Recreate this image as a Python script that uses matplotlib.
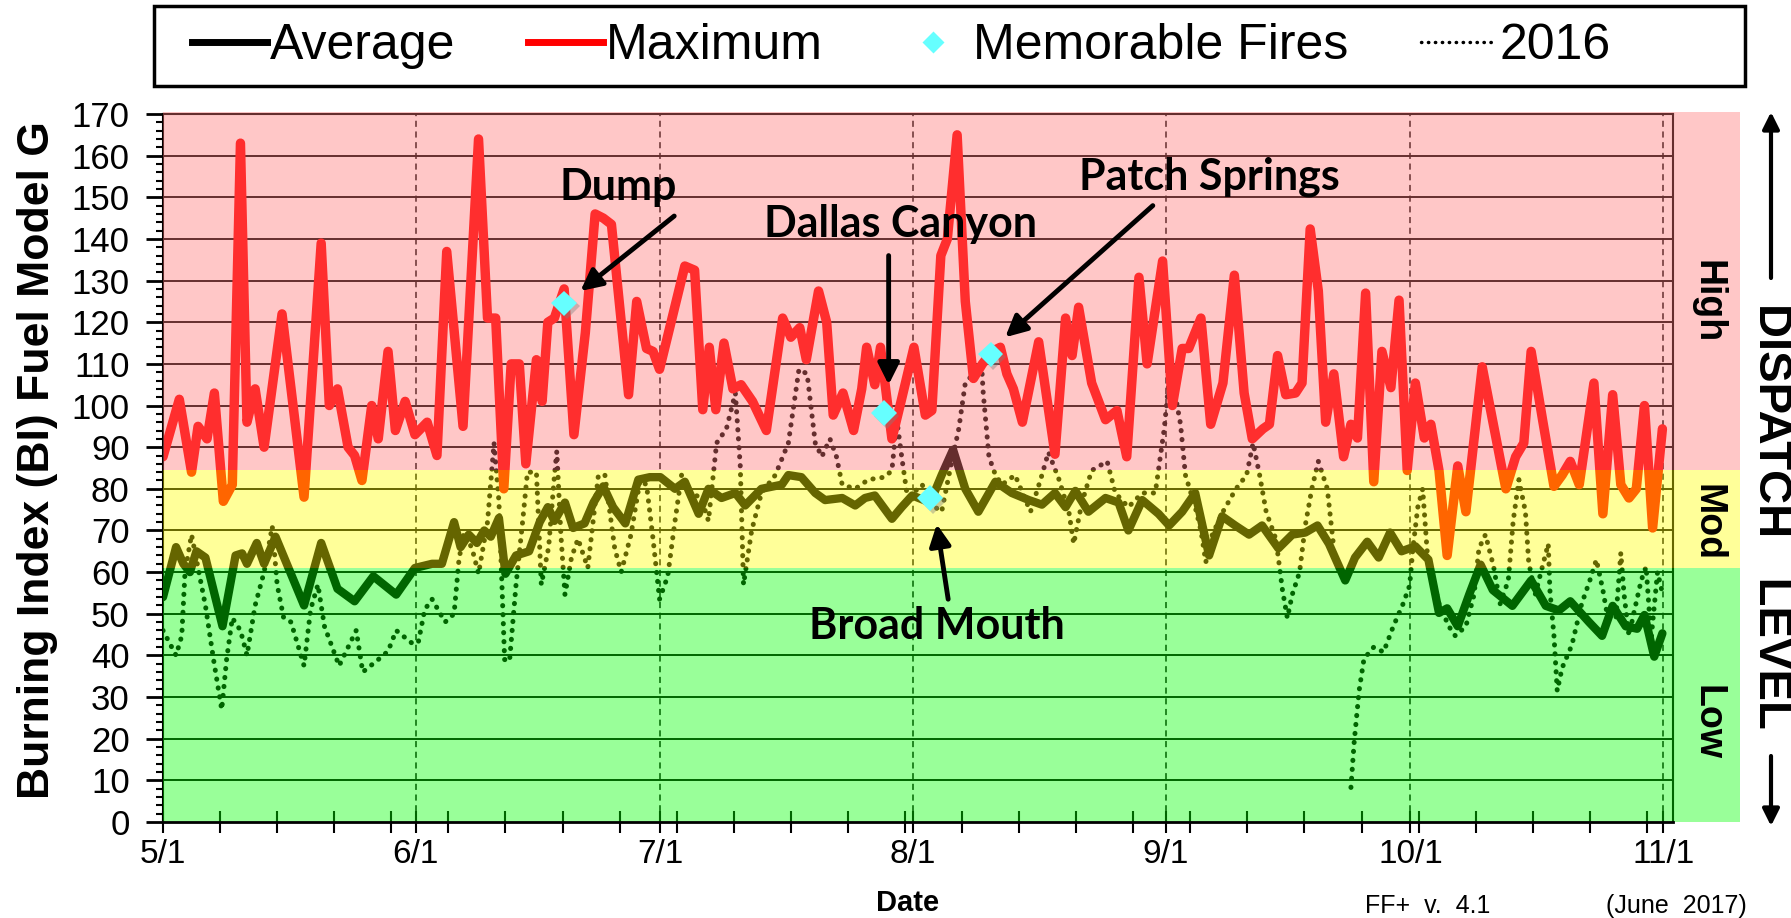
import matplotlib
matplotlib.use('Agg')
import numpy as np
import matplotlib.pyplot as plt
import matplotlib.dates as mdates
import matplotlib.transforms as mtransforms
import matplotlib.patheffects as pe
from matplotlib.patches import Rectangle
from matplotlib.lines import Line2D
from matplotlib.ticker import FixedLocator, FixedFormatter, MultipleLocator

plt.rcParams['font.family'] = ['Liberation Sans', 'DejaVu Sans']

# days since 5/1 and burning index
max_days = [0, 2, 3.5, 4.3, 5.4, 6.3, 7.4, 8.5, 9.5, 10.3, 11.3, 12.4, 14.6, 17.3, 19.4, 20.4,
            21.4, 22.7, 23.5, 24.4, 25.6, 26.4, 27.6, 28.5, 29.7, 30.9, 32.4, 33.6, 34.8, 36.8,
            38.7, 39.8, 40.8, 41.8, 42.7, 43.7, 44.5, 45.8, 46.5, 47.2, 48, 49.2, 50.4, 51.8,
            53, 54, 55, 57.1, 58.1, 59.3, 60.1, 60.9, 64, 65.2, 66.2, 67, 67.8, 68.8, 69.9,
            70.9, 72.3, 74, 76, 77, 78.1, 78.9, 80.4, 81.4, 82.2, 83.4, 84.7, 85.7, 86.3, 87.3,
            88, 89.4, 90.4, 92.1, 93.5, 94.3, 95.4, 96.2, 97.4, 98.4, 99.4, 100.5, 101.7, 102.7,
            103.5, 104.3, 105.4, 107.4, 109.4, 110.7, 111.5, 112.3, 113.9, 115.6, 117, 118.2,
            119.7, 120.7, 122.6, 123.8, 125, 125.8, 127.3, 128.5, 130, 131.4, 132.6, 133.6,
            134.9, 135.7, 136.7, 137.7, 138.9, 139.7, 140.7, 141.7, 142.6, 143.6, 144.8, 145.7,
            146.5, 147.5, 148.5, 149.5, 150.6, 151.6, 152.6, 153.6, 154.7, 155.5, 156.5, 157.5,
            158.8, 159.8, 161.8, 163.5, 164.7, 165.9, 166.9, 167.8, 169.2, 170.6, 171.6, 172.6,
            173.7, 175.5, 176.6, 177.8, 178.8, 179.8, 180.7, 181.7, 182.7, 183.9]
max_bi = [87.7, 101.5, 84, 95, 92, 103, 77, 81, 163, 96, 104, 90, 122, 78, 139, 100,
          104, 90, 88, 82, 100, 92, 113, 94, 101, 93, 96, 88, 137, 95,
          164, 121, 121, 80, 110, 110, 86, 111, 101, 120, 121, 128, 93, 117.5,
          146, 145, 143.5, 102.6, 125, 113.7, 113, 108.7, 133.5, 132.5, 99, 114, 99, 115, 104,
          105, 101, 94, 121, 116.4, 118.7, 111, 127.5, 120, 97.7, 103, 94, 104, 114, 105,
          114, 92, 100, 114, 97.7, 98.8, 136, 140, 165, 125, 106.5, 110, 113, 114,
          107.6, 104, 96, 115.3, 88.3, 121, 112, 123.6, 105.4, 96.6, 98.8, 87.7,
          130.8, 110, 134.7, 100, 113.7, 113.7, 121, 95.5, 105.4, 131.3, 103, 92,
          94.4, 95.5, 112, 102.6, 103, 105.4, 142.4, 127.5, 96, 107.6, 87.7, 95.5,
          92.2, 127, 81.7, 113, 104.3, 125.3, 84.4, 105.4, 92.2, 95.5, 84.4, 64,
          85.5, 74.5, 109.3, 92.2, 80, 87.7, 91, 113, 96.6, 80.6, 83.3, 86.6,
          81, 105.4, 74, 102.6, 81, 77.8, 80, 100, 70.6, 94.4]

avg_days = [0, 1.6, 2.5, 3.3, 4.1, 5.2, 7.3, 8.9, 9.7, 10.3, 11.5, 12.4, 13.8, 17.3, 19.4,
            21.4, 23.5, 25.8, 28.6, 30.9, 33, 34.2, 35.7, 36.5, 37.5, 38.5, 39.4, 40.2, 41.2,
            42, 43.3, 44.9, 46.2, 47.2, 48, 49.3, 50.3, 51.7, 52.8, 54, 55.2, 56.7, 58.3, 59.7,
            61, 62.8, 64, 65.7, 66.9, 68.5, 70.2, 71.4, 73.4, 75.9, 76.7, 78.3, 80, 81.2, 83.3,
            84.9, 86.1, 87.3, 89.4, 90.6, 91.9, 94.1, 95.5, 96.9, 98.4, 100, 102.1, 104.1,
            106.2, 107.8, 109.4, 110.7, 111.9, 113.5, 115.6, 117.2, 118.4, 120.1, 122.1, 123.4,
            125, 126.6, 128.3, 129.9, 131.5, 133.2, 134.8, 136.8, 138.5, 140.1, 141.6, 143, 145,
            146.2, 147.7, 149.1, 150.5, 151.9, 153.6, 155.2, 156.5, 157.5, 158.8, 160.2, 161.6,
            163.1, 165.5, 167.8, 169.6, 171.2, 172.6, 174.9, 176.5, 177.8, 179.4, 180.8, 181.7,
            182.9, 183.9]
avg_bi = [54, 66, 62, 60, 65, 63.5, 47, 64, 64.5, 62, 67, 62, 68.5, 52, 67,
          56, 53, 59, 54.6, 61, 62, 62, 72, 66, 69, 67, 70, 68.5, 73,
          59.6, 64, 65, 72, 75.6, 72.3, 76.7, 70.6, 71.7, 76.7, 80.6, 75.6, 71.7, 82.2, 82.8,
          82.8, 80, 81.7, 74, 80, 77.8, 79, 76, 80, 81, 83.3, 82.8, 79, 77.3, 77.8,
          76, 77.8, 78.4, 72.8, 75.6, 78.4, 76.7, 83.3, 89.4, 80, 74.5, 81.7, 79,
          77.3, 76.2, 79, 75.6, 79.5, 74.5, 77.8, 76.7, 70, 77.3, 74, 71.2,
          74.5, 79, 64, 73.4, 71.2, 69, 71.2, 65.7, 69, 69.5, 71.2, 66.8, 58,
          63.5, 67.3, 63.5, 69.5, 65, 66.2, 63, 50.2, 51.3, 47, 54.6, 61.8,
          55.7, 51.9, 58, 51.9, 50.8, 53, 48, 44.7, 51.9, 47, 46.4, 49.7,
          39.7, 45.3]

y2016_days = [0, 0.8, 1.6, 2.3, 2.7, 3.5, 4.3, 5.2, 6.2, 7.2, 7.8, 8.5, 9.5, 10.3, 11.3, 12.4,
              13.4, 14, 14.8, 15.7, 17.3, 18.1, 19, 19.8, 21.6, 23.1, 23.7, 24.5, 26.4, 27.6,
              28.6, 30.5, 31.3, 32.1, 33, 34.6, 35.7, 36.3, 36.9, 37.9, 38.7, 39.8, 40.6, 41.2,
              41.9, 42.5, 43.3, 44.1, 44.7, 45.8, 46.4, 47.3, 48, 48.3, 48.8, 49.3, 50.1, 50.9,
              52.1, 53.4, 54.2, 55.4, 56.2, 57.4, 58.5, 59.3, 60.1, 60.9, 61.9, 62.8, 63.6,
              64.8, 66, 66.9, 67.9, 69.1, 70.2, 70.8, 71.2, 72.2, 73.4, 75.1, 76.7, 78, 79, 80,
              80.8, 81.8, 82.6, 83.3, 84.9, 86.5, 88.5, 89.4, 90, 90.6, 91.4, 92.3, 93.1, 94.7,
              95.5, 96.4, 97.6, 98.4, 99.4, 100.4, 100.6, 101.3, 102.1, 102.9, 104.5, 106.4,
              107.8, 108.6, 109.9, 111.1, 111.7, 112.7, 113.9, 115.8, 116.8, 118.4, 120.1,
              121.7, 122.8, 123.4, 124.2, 124.8, 125.4, 126.6, 127.3, 127.9, 128.7, 130, 131.6,
              132.9, 133.7, 134.5, 135.3, 136.5, 137.3, 137.9, 138.5, 139.4, 140.1, 140.9,
              141.7, 142.8, 143.6, 144.6, 145.7, 146.1, 146.7, 147.3, 148.5, 149.7, 150.9,
              152.1, 152.9, 153.3, 153.9, 154.5, 155.1, 156.5, 157.7, 158.5, 159.8, 160.8,
              161.4, 162.2, 163.2, 164, 165, 165.6, 166.3, 167.1, 167.5, 168.3, 169.9, 170.1,
              170.6, 171, 171.6, 172.8, 174, 175, 175.8, 176.6, 177.2, 178.2, 178.8, 179.2,
              179.8, 180.4, 181.3, 181.9, 182.3, 182.5, 183.3, 183.9]
y2016_bi = [46, 43, 40, 44.7, 60, 69, 61, 52, 39, 27, 39, 49, 46, 40, 52, 60,
            71, 57, 49, 48, 37.5, 51, 57, 47, 37.5, 43.6, 46, 36, 39, 41,
            46, 43, 43, 51, 53.5, 48, 50, 63, 69.5, 65.7, 59.6, 72, 91, 77,
            39, 38.6, 57, 72, 84, 84, 57, 66, 83, 89, 69, 54.6, 63.5, 68,
            61, 83.3, 83.3, 65.7, 60, 69, 82, 81, 68, 53.5, 59, 72.3, 83.3,
            79, 77.8, 72.3, 91, 94.4, 103, 85.5, 57, 70, 79, 83.3, 91, 108.7, 107.6, 91,
            87.7, 92, 87.7, 81, 80, 82.2, 82.8, 84.4, 96.6, 87.7, 76.7, 79.5, 81, 75.6,
            74.5, 83.3, 94.4, 105.4, 107.6, 109.8, 103, 87.7, 83.3, 81, 83.3, 74.5,
            83.3, 88.8, 82.2, 74.5, 66.8, 76.7, 84.4, 86.6, 79, 75.6, 79,
            79, 94.4, 106.5, 102, 95.5, 83.3, 75.6, 70, 62.4, 69, 74.5, 80,
            83.3, 91, 83.3, 74.5, 67.9, 55.7, 49, 54.6, 60, 71.2, 80,
            86.6, 80, 65.7, np.nan, 8.3, 19.3, 31.5, 39.2, 42, 40.8, 47,
            52.4, 56.8, 65.7, 75.6, 80, 63.5, 52.4, 47, 44.7, 47, 54.6,
            65.7, 69, 61.3, 52.4, 58, 72.3, 82.2, 74.5, 62.4, 54.6, 66.8, 55.7,
            44.7, 31.5, 37, 42.5, 52.4, 58, 63, 55.7, 49, 49, 64.6, 54.6,
            44.7, 50.2, 58, 61.3, 50.2, 43.6, 60, 55]

fire_names = ['Dump', 'Dallas Canyon', 'Broad Mouth', 'Patch Springs']
fire_days = [49.2, 88.4, 94.1, 101.5]
fire_bi = [124.5, 98.2, 77.8, 112.3]

month_days = [0, 31, 61, 92, 123, 153, 184]
month_labels = ['5/1', '6/1', '7/1', '8/1', '9/1', '10/1', '11/1']

start = np.datetime64('2017-05-01T00:00')


def to_date(days):
    return start + (np.asarray(days, dtype=float) * 1440).round().astype('timedelta64[m]')


W, H = 1791, 918
fig = plt.figure(figsize=(W / 100, H / 100), dpi=100)
ax = fig.add_axes([163 / W, 1 - 822 / H, 1510 / W, 708 / H])
ax.set_xlim(to_date(0), to_date(185.2))
ax.set_ylim(0, 170)

# grid (sits under the coloured wash, like the lines)
for v in range(10, 171, 10):
    ax.axhline(v, color='black', lw=1.4, zorder=1)
for d in month_days[1:]:
    ax.axvline(to_date(d), color='black', lw=1.1, ls=(0, (4, 3)), zorder=1)

ax.plot(to_date(y2016_days), y2016_bi, color='black', lw=3.6, ls=(0, (0.05, 1.75)),
        dash_capstyle='round', zorder=2)
ax.plot(to_date(avg_days), avg_bi, color='black', lw=6, solid_joinstyle='round',
        solid_capstyle='round', zorder=2)
ax.plot(to_date(max_days), max_bi, color='red', lw=6.8, solid_joinstyle='round',
        solid_capstyle='round', zorder=2)

# dispatch level bands as a translucent wash on top of the lines
trans = mtransforms.blended_transform_factory(ax.transAxes, ax.transData)
bands = [(0, 61, (0, 1, 0)), (61, 84.5, (1, 1, 0)), (84.5, 170.6, (1, 117 / 255, 117 / 255))]
for lo, hi, c in bands:
    ax.add_patch(Rectangle((0, lo), 1.0444, hi - lo, transform=trans, facecolor=c,
                           alpha=0.4, lw=0, zorder=3, clip_on=False))
ax.spines['bottom'].set_zorder(4)
ax.spines['bottom'].set_linewidth(2)
for s in ['left', 'right', 'top']:
    ax.spines[s].set_linewidth(1.5)

ax.plot(to_date(fire_days), fire_bi, ls='none', marker='D', ms=13, mfc='#66FFFF', mec='none',
        zorder=5, path_effects=[pe.SimplePatchShadow(offset=(2, -2), shadow_rgbFace='grey',
                                                     alpha=0.4), pe.Normal()])

# fire annotations: (text day, text bi, arrow tail day, tail bi, head day, head bi)
ann = {'Dump': (55.8, 152.5, 62.7, 145.5, 51.2, 127.5),
       'Dallas Canyon': (90.5, 143.5, 89, 136, 89, 105),
       'Broad Mouth': (94.9, 47, 96.3, 53.5, 94.9, 71.5),
       'Patch Springs': (128.3, 155, 121.4, 148, 103.3, 116.4)}
for name in fire_names:
    tx, ty, ax0, ay0, hx, hy = ann[name]
    ax.text(to_date(tx), ty, name, ha='center', va='center', fontsize=31,
            fontweight='bold', family=['Lato', 'DejaVu Sans'], zorder=6)
    ax.annotate('', xy=(to_date(hx), hy), xytext=(to_date(ax0), ay0),
                arrowprops=dict(arrowstyle='-|>', color='black', lw=3.5, mutation_scale=32,
                                shrinkA=0, shrinkB=0), zorder=6)

# ticks
ax.xaxis.set_major_locator(FixedLocator(mdates.date2num(to_date(month_days))))
ax.xaxis.set_major_formatter(FixedFormatter(month_labels))
ax.xaxis.set_minor_locator(FixedLocator(mdates.date2num(to_date(np.arange(0, 185, 7)))))
ax.tick_params(axis='x', which='both', direction='inout', length=16, width=1.5,
               labelsize=24, pad=4)
ax.yaxis.set_major_locator(MultipleLocator(10))
ax.yaxis.set_minor_locator(MultipleLocator(2))
ax.tick_params(axis='y', which='major', direction='out', length=12, width=2, labelsize=25,
               pad=12)
ax.tick_params(axis='y', which='minor', direction='out', length=5, width=1.5)

fig.text(38 / W, 1 - 460 / H, 'Burning Index (BI) Fuel Model G', rotation=90, ha='center',
         va='center', fontsize=32, fontweight='bold')
fig.text(908 / W, 1 - 903 / H, 'Date', ha='center', va='center', fontsize=21, fontweight='bold')
fig.text(1428 / W, 1 - 906 / H, 'FF+  v.  4.1', ha='center', va='center', fontsize=18)
fig.text(1676 / W, 1 - 906 / H, '(June  2017)', ha='center', va='center', fontsize=18)

# right hand dispatch labels
tr = mtransforms.blended_transform_factory(fig.transFigure, ax.transData)
for lab, yv in [('High', 125), ('Mod', 72), ('Low', 24)]:
    ax.text(1708 / W, yv, lab, transform=tr, rotation=270, ha='center', va='center',
            fontsize=27, fontweight='bold')
fig.text(1771 / W, 1 - 516 / H, 'DISPATCH   LEVEL', rotation=270, ha='center', va='center',
         fontsize=34, fontweight='bold')
arrow = dict(arrowstyle='-|>', color='black', lw=3, mutation_scale=25, shrinkA=0, shrinkB=0)
ax.annotate('', xy=(1771, H - 112), xytext=(1771, H - 278), xycoords='figure pixels',
            textcoords='figure pixels', arrowprops=arrow)
ax.annotate('', xy=(1771, H - 826), xytext=(1771, H - 756), xycoords='figure pixels',
            textcoords='figure pixels', arrowprops=arrow)

# legend: box drawn separately so it spans the same width as the original
fig.add_artist(Rectangle((154 / W, 1 - 86 / H), (1745 - 154) / W, 80 / H,
                         transform=fig.transFigure, fill=False, edgecolor='black', lw=2.5))
handles = [Line2D([], [], color='black', lw=5),
           Line2D([], [], color='red', lw=5),
           Line2D([], [], ls='none', marker='D', ms=11, mfc='#66FFFF', mec='none'),
           Line2D([], [], color='black', lw=2.5, ls=(0, (0.1, 1.9)), dash_capstyle='round')]
labels = ['Average', 'Maximum', 'Memorable Fires', '2016']
fig.legend(handles, labels, loc='center left', ncol=4, frameon=False,
           bbox_to_anchor=(192 / W, 1 - 46 / H), fontsize=36, handlelength=1.5,
           handletextpad=0.06, columnspacing=1.45, borderpad=0, borderaxespad=0)

fig.savefig('out.png', dpi=100)
